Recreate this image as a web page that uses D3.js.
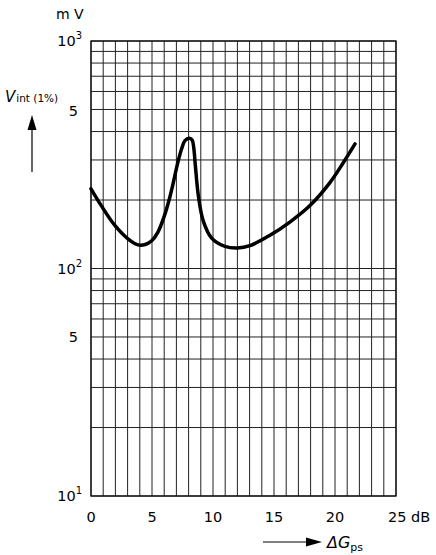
<!DOCTYPE html>
<html>
<head>
<meta charset="utf-8">
<script src="https://cdn.jsdelivr.net/npm/d3@7"></script>
<style>
  html, body { margin: 0; padding: 0; background: #fff; }
  svg { display: block; }
  text { font-family: "DejaVu Sans", "Liberation Sans", sans-serif; fill: #000; }
</style>
</head>
<body>
<svg id="chart" width="436" height="555"></svg>
<script>
// ---- data ----
const dB = [0, 0.84, 1.94, 3.03, 3.85, 4.45, 4.95, 5.5, 6.04, 6.4, 6.75, 7.1, 7.43, 7.7, 8.06, 8.3, 8.42, 8.55, 8.8, 9.2, 9.89, 10.98, 12.0, 13.03, 14.67, 16.3, 17.95, 19.6, 20.7, 21.64];
const mV = [224, 189, 155, 135, 127, 127.5, 132, 145, 172, 200, 239, 290, 336, 365, 374, 366, 340, 285, 209, 162, 136, 125, 123, 126, 140, 160, 189, 239, 293, 353];
const xTickValues = [0, 5, 10, 15, 20, 25];
const xTickLabels = ["0", "5", "10", "15", "20", "25 dB"];
const yTickValues = [10, 50, 100, 500, 1000];
const yTickBase = ["10", "5", "10", "5", "10"];
const yTickExp = ["1", "", "2", "", "3"];
const xGridValues = d3.range(0, 26, 1);
const yGridValues = [10,20,30,40,50,60,70,80,90,100,200,300,400,500,600,700,800,900,1000];

(function () {
// ---- layout ----
const svg = d3.select("#chart");
const pl = 91, pr = 396, pt = 41, pb = 496;
const x = d3.scaleLinear().domain([0, 25]).range([pl, pr]);
const y = d3.scaleLog().domain([10, 1000]).range([pb, pt]);

// grid
const g = svg.append("g");
g.selectAll("line.v").data(xGridValues).join("line")
  .attr("x1", d => x(d)).attr("x2", d => x(d))
  .attr("y1", pt).attr("y2", pb)
  .attr("stroke", "#222").attr("stroke-width", 1);
g.selectAll("line.h").data(yGridValues).join("line")
  .attr("x1", pl).attr("x2", pr)
  .attr("y1", d => y(d)).attr("y2", d => y(d))
  .attr("stroke", "#222").attr("stroke-width", 1);
g.append("rect").attr("x", pl).attr("y", pt)
  .attr("width", pr - pl).attr("height", pb - pt)
  .attr("fill", "none").attr("stroke", "#111").attr("stroke-width", 1.3);

// curve
const line = d3.line()
  .x(d => x(d[0])).y(d => y(d[1]))
  .curve(d3.curveCatmullRom.alpha(0.5));
svg.append("path")
  .datum(dB.map((d, i) => [d, mV[i]]))
  .attr("d", line)
  .attr("fill", "none").attr("stroke", "#000")
  .attr("stroke-width", 3.5).attr("stroke-linecap", "round").attr("stroke-linejoin", "round");

// x tick labels
xTickValues.forEach((v, i) => {
  const t = svg.append("text")
    .attr("x", x(v)).attr("y", 522)
    .attr("font-size", 14.5);
  if (i === xTickValues.length - 1) {
    t.attr("text-anchor", "start").attr("x", x(v) - 8).text(xTickLabels[i]);
  } else {
    t.attr("text-anchor", "middle").text(xTickLabels[i]);
  }
});

// y tick labels
yTickValues.forEach((v, i) => {
  const t = svg.append("text")
    .attr("x", 78).attr("y", y(v) + 5)
    .attr("text-anchor", "end").attr("font-size", 14.5);
  if (yTickExp[i]) {
    t.attr("x", 82);
    t.append("tspan").text(yTickBase[i]);
    t.append("tspan").attr("font-size", 10).attr("dy", -7).text(yTickExp[i]);
  } else {
    if (v === 500) t.attr("y", y(v) + 7);
    t.text(yTickBase[i]);
  }
});
// y unit
svg.append("text").attr("x", 56).attr("y", 19).attr("font-size", 14).text("m V");

// y axis title
const yt = svg.append("text").attr("x", 5).attr("y", 102);
yt.append("tspan").attr("font-size", 15).attr("font-style", "italic").text("V");
yt.append("tspan").attr("font-size", 10.5).attr("dx", 1).attr("dy", 0).text("int (1%)");
// up arrow
svg.append("line").attr("x1", 32).attr("x2", 32).attr("y1", 172).attr("y2", 126)
  .attr("stroke", "#000").attr("stroke-width", 1.2);
svg.append("path").attr("d", "M32,115 L27.5,130 L36.5,130 Z").attr("fill", "#000");

// x axis title
svg.append("line").attr("x1", 263).attr("x2", 310).attr("y1", 542).attr("y2", 542)
  .attr("stroke", "#000").attr("stroke-width", 1.2);
svg.append("path").attr("d", "M322,542 L306,537.5 L306,546.5 Z").attr("fill", "#000");
const xt = svg.append("text").attr("x", 327).attr("y", 548);
xt.append("tspan").attr("font-size", 16).attr("font-style", "italic").text("ΔG");
xt.append("tspan").attr("font-size", 11).attr("dy", 3).text("ps");
})();
</script>
</body>
</html>
